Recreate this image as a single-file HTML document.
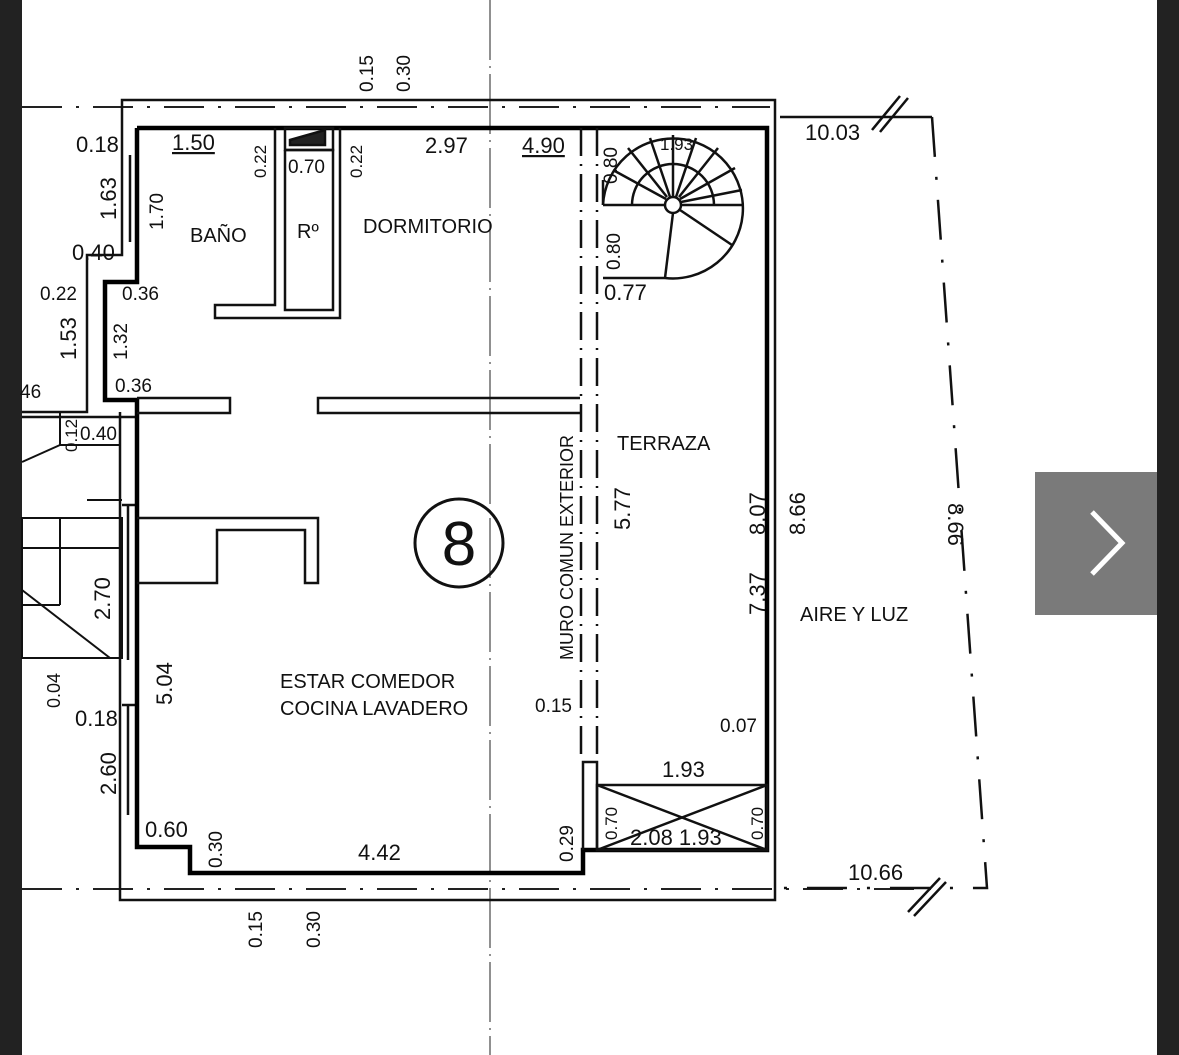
<!DOCTYPE html>
<html><head><meta charset="utf-8"><style>
html,body{margin:0;padding:0;background:#fff;}
svg{display:block;}
text{font-family:"Liberation Sans",sans-serif;fill:#111;}
.n{font-family:"Liberation Sans Narrow","Liberation Sans",sans-serif;font-size:22px;}
</style></head><body>
<svg width="1179" height="1055" viewBox="0 0 1179 1055" xmlns="http://www.w3.org/2000/svg">
<rect width="1179" height="1055" fill="#fff"/>
<rect x="0" y="0" width="22" height="1055" fill="#222"/>
<rect x="1157" y="0" width="22" height="1055" fill="#222"/>

<!-- axis dash-dot lines -->
<g stroke="#222" stroke-width="2" fill="none" stroke-dasharray="40,14,3,14">
<line x1="22" y1="107" x2="770" y2="107"/>
<line x1="22" y1="889" x2="940" y2="889"/>
</g>
<line x1="490" y1="0" x2="490" y2="1055" stroke="#555" stroke-width="1.3" stroke-dasharray="60,6,2,6"/>

<!-- outer thin outline -->
<g stroke="#111" stroke-width="2.5" fill="none">
<polyline points="122,242 122,100 775,100 775,900 120,900 120,412"/>
<polyline points="122,242 122,255 87,255 87,412 22,412"/>
<line x1="22" y1="417" x2="137" y2="417"/>
<line x1="130" y1="155" x2="130" y2="242"/>
<line x1="128" y1="505" x2="128" y2="660"/>
<line x1="128" y1="705" x2="128" y2="815"/>
<line x1="122" y1="505" x2="137" y2="505"/>
<line x1="122" y1="705" x2="137" y2="705"/>
</g>

<!-- thick walls -->
<g stroke="#000" stroke-width="4.5" fill="none">
<polyline points="137,128 137,282 105,282 105,400 137,400 137,847 190,847 190,873 583,873 583,850 767,850 767,128 137,128"/>
</g>
<!-- interior walls -->
<g stroke="#111" stroke-width="2.5" fill="none">
<polyline points="275,128 275,305 215,305 215,318 340,318 340,128"/>
<polyline points="285,150 285,310 333,310 333,150 285,150"/>
<rect x="285" y="128" width="48" height="22"/>
<polygon points="290,140 325,130 325,145 290,145" fill="#222"/>
<polyline points="137,398 230,398 230,413 137,413"/>
<polyline points="580,398 318,398 318,413 580,413"/>
<polyline points="137,518 318,518 318,583 305,583 305,530 217,530 217,583 137,583"/>
<polyline points="583,850 583,762 597,762 597,850"/>
<rect x="597" y="785" width="170" height="65"/>
<line x1="597" y1="850" x2="767" y2="785"/>
<line x1="597" y1="785" x2="767" y2="850"/>
</g>

<!-- muro comun double dashed -->
<g stroke="#111" stroke-width="2.5" fill="none" stroke-dasharray="28,8,2,8">
<line x1="581" y1="128" x2="581" y2="762"/>
<line x1="597" y1="128" x2="597" y2="762"/>
</g>

<!-- spiral stair -->
<g stroke="#111" stroke-width="2.5" fill="none">
<path d="M603,205 A70,70 0 1 1 665,278 L603,278"/>
<line x1="603" y1="205" x2="603" y2="180"/>
<path d="M632,205 A41,41 0 0 1 714,205"/>
<circle cx="673" cy="205" r="8" fill="#fff"/>
<line x1="603" y1="205" x2="665" y2="205"/>
<line x1="681" y1="205" x2="743" y2="205"/>
<line x1="673" y1="213" x2="665" y2="278"/>
<line x1="680" y1="210" x2="732" y2="245"/>
<line x1="666" y1="199" x2="613" y2="170"/>
<line x1="667" y1="197" x2="628" y2="148"/>
<line x1="670" y1="197" x2="650" y2="138"/>
<line x1="673" y1="197" x2="673" y2="135"/>
<line x1="676" y1="197" x2="696" y2="138"/>
<line x1="679" y1="197" x2="718" y2="148"/>
<line x1="680" y1="199" x2="735" y2="168"/>
<line x1="681" y1="202" x2="742" y2="190"/>
</g>

<!-- circle 8 -->
<circle cx="459" cy="543" r="44" stroke="#111" stroke-width="3" fill="none"/>
<text x="459" y="565" text-anchor="middle" style="font-size:62px">8</text>

<!-- property line right -->
<g stroke="#111" stroke-width="2.5" fill="none">
<polyline points="780,117 932,117"/>
<polyline points="932,117 987,888 780,888" stroke-dasharray="40,20,3,20"/>
<line x1="872" y1="130" x2="900" y2="96"/><line x1="880" y1="132" x2="908" y2="98"/>
<line x1="908" y1="912" x2="940" y2="878"/><line x1="914" y1="916" x2="946" y2="882"/>
</g>

<!-- left neighbor -->
<g stroke="#111" stroke-width="2" fill="none">
<rect x="22" y="518" width="100" height="140"/>
<line x1="22" y1="548" x2="122" y2="548"/>
<line x1="60" y1="518" x2="60" y2="605"/>
<line x1="22" y1="605" x2="60" y2="605"/>
<line x1="22" y1="590" x2="110" y2="658"/>
<line x1="22" y1="462" x2="60" y2="445"/>
<line x1="60" y1="412" x2="60" y2="445"/>
<line x1="60" y1="445" x2="120" y2="445"/>
<line x1="87" y1="500" x2="122" y2="500"/>
</g>

<!-- room labels -->
<g style="font-size:20px">
<text x="190" y="242">BAÑO</text>
<text x="297" y="238">Rº</text>
<text x="363" y="233">DORMITORIO</text>
<text x="617" y="450">TERRAZA</text>
<text x="280" y="688">ESTAR COMEDOR</text>
<text x="280" y="715">COCINA LAVADERO</text>
<text x="800" y="621">AIRE Y LUZ</text>
</g>
<text transform="translate(573,660) rotate(-90)" style="font-size:18px">MURO COMUN EXTERIOR</text>

<!-- dimension labels -->
<g class="n">
<text x="76" y="152">0.18</text>
<text x="172" y="150" text-decoration="underline">1.50</text>
<text x="425" y="153">2.97</text>
<text x="522" y="153" text-decoration="underline">4.90</text>
<text x="288" y="173" style="font-size:19px">0.70</text>
<text x="72" y="260">0.40</text>
<text x="40" y="300" style="font-size:19px">0.22</text>
<text x="122" y="300" style="font-size:19px">0.36</text>
<text x="115" y="392" style="font-size:19px">0.36</text>
<text x="20" y="398" style="font-size:19px">46</text>
<text x="80" y="440" style="font-size:19px">0.40</text>
<text x="75" y="726">0.18</text>
<text x="145" y="837">0.60</text>
<text x="358" y="860">4.42</text>
<text x="535" y="712" style="font-size:19px">0.15</text>
<text x="720" y="732" style="font-size:19px">0.07</text>
<text x="662" y="777">1.93</text>
<text x="630" y="845">2.08 1.93</text>
<text x="604" y="300">0.77</text>
<text x="805" y="140">10.03</text>
<text x="848" y="880">10.66</text>
</g>
<g class="n">
<text transform="translate(373,92) rotate(-90)" style="font-size:19px">0.15</text>
<text transform="translate(410,92) rotate(-90)" style="font-size:19px">0.30</text>
<text transform="translate(116,220) rotate(-90)">1.63</text>
<text transform="translate(163,230) rotate(-90)" style="font-size:19px">1.70</text>
<text transform="translate(266,178) rotate(-90)" style="font-size:17px">0.22</text>
<text transform="translate(362,178) rotate(-90)" style="font-size:17px">0.22</text>
<text transform="translate(76,360) rotate(-90)">1.53</text>
<text transform="translate(127,360) rotate(-90)" style="font-size:19px">1.32</text>
<text transform="translate(77,452) rotate(-90)" style="font-size:17px">0.12</text>
<text transform="translate(110,620) rotate(-90)">2.70</text>
<text transform="translate(60,708) rotate(-90)" style="font-size:18px">0.04</text>
<text transform="translate(172,705) rotate(-90)">5.04</text>
<text transform="translate(116,795) rotate(-90)">2.60</text>
<text transform="translate(222,868) rotate(-90)" style="font-size:19px">0.30</text>
<text transform="translate(262,948) rotate(-90)" style="font-size:19px">0.15</text>
<text transform="translate(320,948) rotate(-90)" style="font-size:19px">0.30</text>
<text transform="translate(573,862) rotate(-90)" style="font-size:19px">0.29</text>
<text transform="translate(617,184) rotate(-90)" style="font-size:19px">0.80</text>
<text transform="translate(620,270) rotate(-90)" style="font-size:19px">0.80</text>
<text transform="translate(630,530) rotate(-90)">5.77</text>
<text transform="translate(765,615) rotate(-90)">7.37</text>
<text transform="translate(765,535) rotate(-90)">8.07</text>
<text transform="translate(805,535) rotate(-90)">8.66</text>
<text transform="translate(948,503) rotate(90)">8.66</text>
<text transform="translate(617,840) rotate(-90)" style="font-size:17px">0.70</text>
<text transform="translate(763,840) rotate(-90)" style="font-size:17px">0.70</text>
<text x="660" y="150" style="font-size:17px">1.93</text>
</g>

<!-- gallery arrow -->
<rect x="1035" y="472" width="122" height="143" fill="#7a7a7a"/>
<polyline points="1092,512 1122,543 1092,574" stroke="#fff" stroke-width="5" fill="none"/>
</svg>
</body></html>
